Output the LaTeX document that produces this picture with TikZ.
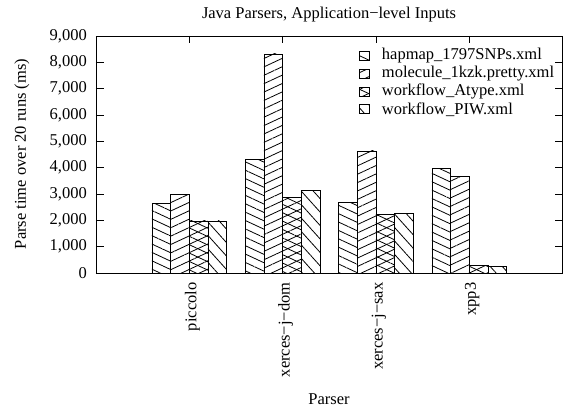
\documentclass[tikz,border=0pt]{standalone}
\usepackage{fontspec}
\setmainfont{Liberation Serif}
\usetikzlibrary{positioning,patterns.meta}

\begin{document}
\begin{tikzpicture}[x=1pt,y=1pt,node distance=8pt,font=\fontsize{16.5}{18}\selectfont]
\tikzstyle{axisline} = [line width=0.8pt]
\tikzstyle{bar} = [draw, line width=0.8pt]
\tikzstyle{hapmap} = [pattern={Lines[angle=-25,distance=7.6pt,line width=0.8pt]}]
\tikzstyle{molecule} = [pattern={Lines[angle=25,distance=7.6pt,line width=0.8pt]}]
\tikzstyle{atype} = [pattern={Lines[angle=25,distance=7.6pt,line width=0.8pt]}, postaction={pattern={Lines[angle=-25,distance=7.6pt,line width=0.8pt]}}]
\tikzstyle{piw} = [pattern={Lines[angle=-48,distance=9pt,line width=0.8pt]}]
\tikzstyle{legendkey} = [rectangle, draw, line width=0.8pt, minimum width=10pt, minimum height=9pt, inner sep=0pt]

\useasboundingbox (0,0) rectangle (566,408);

% Title and axis labels
\node (title) at (329,393) {Java Parsers, Application−level Inputs};
\node [rotate=90] (ylabel) at (22,254) {Parse time over 20 runs (ms)};
\node (xlabel) at (329,9) {Parser};

\begin{scope}[xshift=189.3pt, yshift=135pt, x=93.33pt, y=0.026333pt]
% Frame and ticks
\draw [axisline] (-1,0) rectangle (4,9000);
\foreach \v/\t in {0/0,1000/{1,000},2000/{2,000},3000/{3,000},4000/{4,000},5000/{5,000},6000/{6,000},7000/{7,000},8000/{8,000},9000/{9,000}} {
  \draw [axisline] (-1,\v) -- ++(8pt,0);
  \draw [axisline] (4,\v) -- ++(-8pt,0);
  \node [anchor=east, inner sep=0pt] (ytick\v) at ([xshift=-9pt]-1,\v) {\t};
}
\foreach \c in {0,1,2,3} {
  \draw [axisline] (\c,0) -- ++(0,7pt);
  \draw [axisline] (\c,9000) -- ++(0,-7pt);
}

% piccolo
\draw [bar,hapmap] (-0.4,0) rectangle (-0.2,2647);
\draw [bar,molecule] (-0.2,0) rectangle (0,2989);
\draw [bar,atype] (0,0) rectangle (0.2,1975);
\draw [bar,piw] (0.2,0) rectangle (0.4,1975);
% xerces-j-dom
\draw [bar,hapmap] (0.6,0) rectangle (0.8,4318);
\draw [bar,molecule] (0.8,0) rectangle (1,8317);
\draw [bar,atype] (1,0) rectangle (1.2,2860);
\draw [bar,piw] (1.2,0) rectangle (1.4,3140);
% xerces-j-sax
\draw [bar,hapmap] (1.6,0) rectangle (1.8,2670);
\draw [bar,molecule] (1.8,0) rectangle (2,4633);
\draw [bar,atype] (2,0) rectangle (2.2,2229);
\draw [bar,piw] (2.2,0) rectangle (2.4,2267);
% xpp3
\draw [bar,hapmap] (2.6,0) rectangle (2.8,3976);
\draw [bar,molecule] (2.8,0) rectangle (3,3657);
\draw [bar,atype] (3,0) rectangle (3.2,277);
\draw [bar,piw] (3.2,0) rectangle (3.4,254);

% Parser names
\node [rotate=90, anchor=east] (piccolo) at ([xshift=3pt, yshift=-6pt]0,0) {piccolo};
\node [rotate=90, anchor=east] (xercesDom) at ([xshift=3pt, yshift=-6pt]1,0) {xerces−j−dom};
\node [rotate=90, anchor=east] (xercesSax) at ([xshift=3pt, yshift=-6pt]2,0) {xerces−j−sax};
\node [rotate=90, anchor=east] (xppThree) at ([xshift=3pt, yshift=-6pt]3,0) {xpp3};
\end{scope}

% Legend
\node [legendkey, hapmap] (keyHapmap) at (364,352) {};
\node [legendkey, molecule, below=of keyHapmap] (keyMolecule) {};
\node [legendkey, atype, below=of keyMolecule] (keyAtype) {};
\node [legendkey, piw, below=of keyAtype] (keyPiw) {};
\node [right=9pt of keyHapmap] (labelHapmap) {hapmap\_1797SNPs.xml};
\node [right=9pt of keyMolecule] (labelMolecule) {molecule\_1kzk.pretty.xml};
\node [right=9pt of keyAtype] (labelAtype) {workflow\_Atype.xml};
\node [right=9pt of keyPiw] (labelPiw) {workflow\_PIW.xml};

\end{tikzpicture}
\end{document}
